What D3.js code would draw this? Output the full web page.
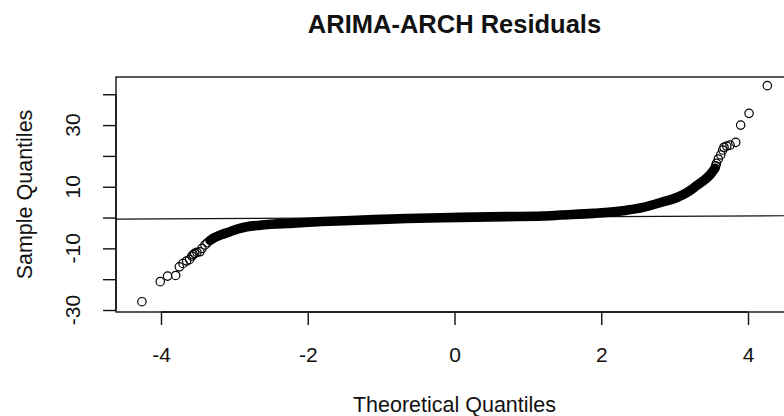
<!DOCTYPE html>
<html>
<head>
<meta charset="utf-8">
<script src="https://cdn.jsdelivr.net/npm/d3@7"></script>
<style>
  html, body { margin: 0; padding: 0; background: #fff; }
  svg { display: block; font-family: "Liberation Sans", Arial, sans-serif; }
</style>
</head>
<body>
<svg id="chart" width="784" height="416"></svg>
<script>
// ---- Data ----
const titleText = "ARIMA-ARCH Residuals";
const xLabel = "Theoretical Quantiles";
const yLabel = "Sample Quantiles";

const xTicks = [-4, -2, 0, 2, 4];
const yTicks = [-30, -20, -10, 0, 10, 20, 30, 40];
const yTickLabels = [-30, -10, 10, 30];

// individually visible points in the lower tail
const lowTailX = [-4.26, -4.01, -3.91, -3.80, -3.75, -3.70, -3.65, -3.61, -3.58, -3.56, -3.54, -3.51, -3.47, -3.44, -3.40, -3.37];
const lowTailY = [-27.3, -20.8, -19.0, -18.8, -16.0, -14.9, -14.1, -13.6, -12.5, -12.0, -11.6, -11.3, -11.1, -10.0, -8.9, -8.2];

// dense over-plotted band (thousands of points merge into a solid line)
const bandX = [-3.33, -3.29, -3.18, -3.06, -2.95, -2.83, -2.65, -2.45, -2.20, -1.80, -1.33, -0.65, 0.07, 0.70, 1.21, 1.44, 1.89, 2.35, 2.57, 2.80, 3.03, 3.16, 3.25, 3.30, 3.39, 3.48, 3.55];
const bandY = [-7.4, -6.75, -5.6, -4.6, -3.7, -3.0, -2.5, -2.1, -1.8, -1.3, -0.9, -0.3, 0.05, 0.3, 0.5, 0.8, 1.35, 2.4, 3.3, 4.8, 6.5, 8.0, 9.4, 10.4, 11.9, 13.8, 16.0];

// individually visible points in the upper tail
const highTailX = [3.56, 3.57, 3.595, 3.628, 3.655, 3.673, 3.710, 3.755, 3.832, 3.900, 4.014, 4.263];
const highTailY = [16.8, 17.6, 19.0, 20.3, 21.9, 22.8, 23.2, 23.5, 24.4, 30.0, 33.8, 42.8];

// reference (qq) line, given by two end points
const qqLineX = [-4.613, 4.613];
const qqLineY = [-0.50, 0.60];

// ---- Layout ----
const svg = d3.select("#chart");
const plot = { left: 116, right: 793, top: 77, bottom: 312 };

const x = d3.scaleLinear().domain([-4.613, 4.613]).range([plot.left, plot.right]);
const y = d3.scaleLinear().domain([-30.65, 45.6]).range([plot.bottom, plot.top]);

const ink = "#111";

// qq line
svg.append("line")
  .attr("x1", x(qqLineX[0])).attr("y1", y(qqLineY[0]))
  .attr("x2", x(qqLineX[1])).attr("y2", y(qqLineY[1]))
  .attr("stroke", ink).attr("stroke-width", 1.2);

// dense band
const band = d3.range(bandX.length).map(i => [bandX[i], bandY[i]]);
svg.append("path")
  .datum(band)
  .attr("d", d3.line().x(d => x(d[0])).y(d => y(d[1])).curve(d3.curveMonotoneX))
  .attr("fill", "none")
  .attr("stroke", "#000")
  .attr("stroke-width", 9.6)
  .attr("stroke-linecap", "round")
  .attr("stroke-linejoin", "round");

// tail points
const pts = d3.range(lowTailX.length).map(i => [lowTailX[i], lowTailY[i]])
  .concat(d3.range(highTailX.length).map(i => [highTailX[i], highTailY[i]]));
svg.append("g").selectAll("circle").data(pts).join("circle")
  .attr("cx", d => x(d[0])).attr("cy", d => y(d[1]))
  .attr("r", 4.2)
  .attr("fill", "none").attr("stroke", "#000").attr("stroke-width", 1.2);

// box
svg.append("rect")
  .attr("x", plot.left).attr("y", plot.top)
  .attr("width", plot.right - plot.left).attr("height", plot.bottom - plot.top)
  .attr("fill", "none").attr("stroke", ink).attr("stroke-width", 1.4);

// x axis
const xAxis = d3.axisBottom(x).tickValues(xTicks).tickSize(13).tickPadding(25)
  .tickFormat(d3.format("d"));
const gx = svg.append("g").attr("transform", `translate(0,${plot.bottom})`).call(xAxis);
gx.select(".domain").attr("d", `M${x(xTicks[0])},0H${x(xTicks[xTicks.length-1])}`)
  .attr("stroke", ink).attr("stroke-width", 1.4);
gx.selectAll(".tick line").attr("stroke", ink).attr("stroke-width", 1.4);
gx.selectAll(".tick text")
  .attr("font-size", 21).attr("font-family", "Liberation Sans, Arial, sans-serif")
  .attr("fill", "#111").attr("dy", null).attr("y", 50)
  .text(d => d < 0 ? "-" + Math.abs(d) : String(d));

// y axis
const yAxis = d3.axisLeft(y).tickValues(yTicks).tickSize(13).tickFormat("");
const gy = svg.append("g").attr("transform", `translate(${plot.left},0)`).call(yAxis);
gy.select(".domain").attr("d", `M0,${y(yTicks[0])}V${y(yTicks[yTicks.length-1])}`)
  .attr("stroke", ink).attr("stroke-width", 1.4);
gy.selectAll(".tick line").attr("stroke", ink).attr("stroke-width", 1.4);

svg.append("g").selectAll("text").data(yTickLabels).join("text")
  .attr("transform", d => `translate(80,${y(d)}) rotate(-90)`)
  .attr("text-anchor", "middle")
  .attr("font-size", 21).attr("fill", "#111")
  .text(d => d < 0 ? "-" + Math.abs(d) : String(d));

// titles
svg.append("text")
  .attr("x", (plot.left + plot.right) / 2).attr("y", 33)
  .attr("text-anchor", "middle")
  .attr("font-size", 25.5).attr("font-weight", "bold").attr("fill", "#111")
  .text(titleText);

svg.append("text")
  .attr("x", (plot.left + plot.right) / 2).attr("y", 412)
  .attr("text-anchor", "middle")
  .attr("font-size", 21.5).attr("fill", "#111")
  .text(xLabel);

svg.append("text")
  .attr("transform", `translate(32,${(plot.top + plot.bottom) / 2}) rotate(-90)`)
  .attr("text-anchor", "middle")
  .attr("font-size", 21.5).attr("fill", "#111")
  .text(yLabel);
</script>
</body>
</html>
